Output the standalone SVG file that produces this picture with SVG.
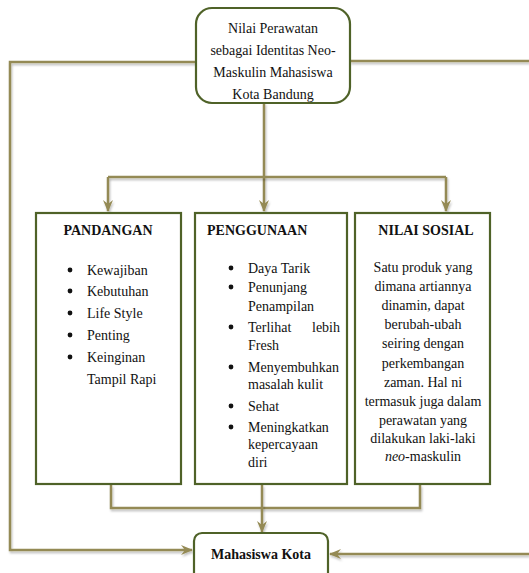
<svg xmlns="http://www.w3.org/2000/svg" width="529" height="573" viewBox="0 0 529 573">
<defs>
<marker id="ah" markerUnits="userSpaceOnUse" markerWidth="12" markerHeight="12" viewBox="0 0 12 12" refX="11" refY="6" orient="auto">
<path d="M0,1 L12,6 L0,11 L4,6 z" fill="#948A54"/>
</marker>
<filter id="sh" filterUnits="userSpaceOnUse" x="0" y="0" width="529" height="573">
<feDropShadow dx="1" dy="2" stdDeviation="0.8" flood-color="#000" flood-opacity="0.25"/>
</filter>
</defs>
<style>
.c{fill:none;stroke:#948A54;stroke-width:2.5;filter:url(#sh)}
.n{fill:#fff;stroke:#4F6228;stroke-width:2.2}
.t{font-family:"Liberation Serif","Times New Roman",serif;font-size:14px;fill:#111}
.b{font-weight:bold}
.m{text-anchor:middle}
.d{fill:#111}
</style>
<rect width="529" height="573" fill="#fff"/>
<g id="connectors">
<path class="c" d="M196,62 H10 V550 H192" marker-end="url(#ah)"/>
<path class="c" d="M350,61 H529"/>
<path class="c" d="M529,554 H330" marker-end="url(#ah)"/>
<path class="c" d="M264,103 V211" marker-end="url(#ah)"/>
<path class="c" d="M108,177 H446"/>
<path class="c" d="M108,177 V211" marker-end="url(#ah)"/>
<path class="c" d="M446,177 V211" marker-end="url(#ah)"/>
<path class="c" d="M111,485 V508 H420 V485"/>
<path class="c" d="M262,485 V532" marker-end="url(#ah)"/>
</g>
<g id="top">
<rect class="n" x="196" y="8" width="154" height="95" rx="16"/>
<text class="t m" x="273" y="33">Nilai Perawatan</text>
<text class="t m" x="273" y="55">sebagai Identitas Neo-</text>
<text class="t m" x="273" y="77">Maskulin Mahasiswa</text>
<text class="t m" x="273" y="99">Kota Bandung</text>
</g>
<g id="pandangan">
<rect class="n" x="36" y="213" width="145" height="271"/>
<text class="t b m" x="108" y="235">PANDANGAN</text>
<g class="d">
<circle cx="70" cy="270" r="2.4"/><circle cx="70" cy="291" r="2.4"/><circle cx="70" cy="313" r="2.4"/><circle cx="70" cy="335" r="2.4"/><circle cx="70" cy="357" r="2.4"/>
</g>
<g class="t">
<text x="87" y="275">Kewajiban</text>
<text x="87" y="296">Kebutuhan</text>
<text x="87" y="318">Life Style</text>
<text x="87" y="340">Penting</text>
<text x="87" y="362">Keinginan</text>
<text x="87" y="384">Tampil Rapi</text>
</g>
</g>
<g id="penggunaan">
<rect class="n" x="195" y="213" width="152" height="271"/>
<text class="t b" x="207" y="235">PENGGUNAAN</text>
<g class="d">
<circle cx="231" cy="268" r="2.4"/><circle cx="231" cy="287" r="2.4"/><circle cx="231" cy="327" r="2.4"/><circle cx="231" cy="367" r="2.4"/><circle cx="231" cy="406" r="2.4"/><circle cx="231" cy="427" r="2.4"/>
</g>
<g class="t">
<text x="248" y="273">Daya Tarik</text>
<text x="248" y="292">Penunjang</text>
<text x="248" y="311">Penampilan</text>
<text x="248" y="332">Terlihat</text><text x="340" y="332" text-anchor="end">lebih</text>
<text x="248" y="350">Fresh</text>
<text x="248" y="372">Menyembuhkan</text>
<text x="248" y="389">masalah kulit</text>
<text x="248" y="411">Sehat</text>
<text x="248" y="432">Meningkatkan</text>
<text x="248" y="449">kepercayaan</text>
<text x="248" y="467">diri</text>
</g>
</g>
<g id="nilai-sosial">
<rect class="n" x="355" y="213" width="135" height="271"/>
<text class="t b m" x="426" y="235">NILAI SOSIAL</text>
<g class="t m">
<text x="423" y="272">Satu produk yang</text>
<text x="423" y="291">dimana artiannya</text>
<text x="423" y="310">dinamin, dapat</text>
<text x="423" y="329">berubah-ubah</text>
<text x="423" y="348">seiring dengan</text>
<text x="423" y="368">perkembangan</text>
<text x="423" y="387">zaman. Hal ni</text>
<text x="423" y="406">termasuk juga dalam</text>
<text x="423" y="425">perawatan yang</text>
<text x="423" y="443">dilakukan laki-laki</text>
<text x="423" y="461"><tspan font-style="italic">neo</tspan>-maskulin</text>
</g>
</g>
<g id="mahasiswa">
<rect class="n" x="194" y="533" width="134" height="50" rx="8"/>
<text class="t b m" x="261" y="559">Mahasiswa Kota</text>
</g>
</svg>
